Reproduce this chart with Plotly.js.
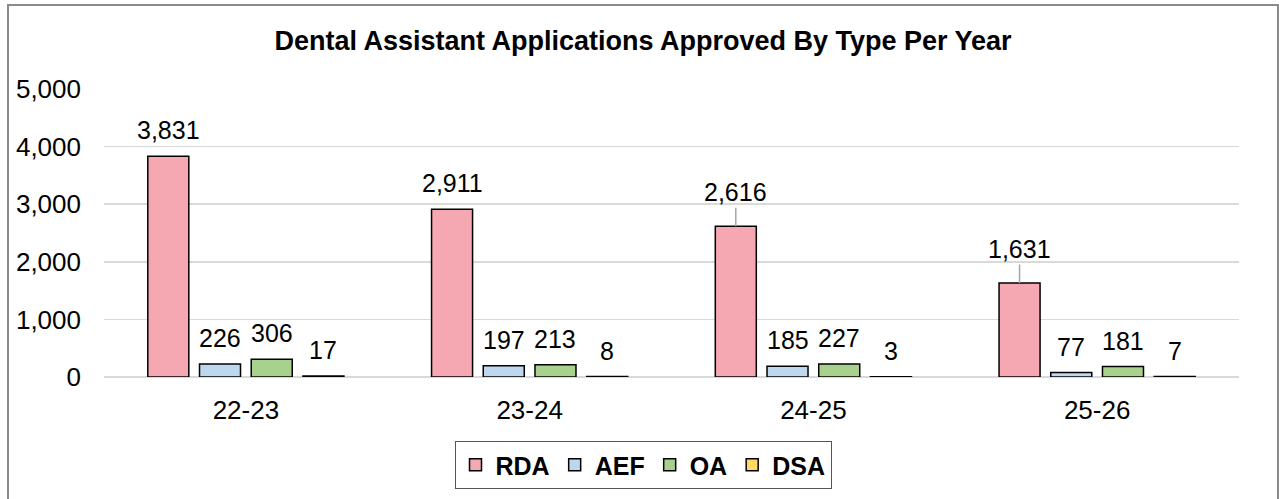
<!DOCTYPE html>
<html>
<head>
<meta charset="utf-8">
<script src="https://cdn.plot.ly/plotly-3.0.1.min.js"></script>
<style>
  html, body { margin: 0; padding: 0; background: #fff; overflow: hidden; }
  #frame {
    position: absolute; left: 7px; top: 4px;
    width: 1268px; height: 520px;
    border: 2px solid #8a8a8a;
  }
</style>
</head>
<body>
<div id="frame"><div id="chart"></div></div>
<script>
// Data
const years = ['22-23', '23-24', '24-25', '25-26'];
const seriesNames = ['RDA', 'AEF', 'OA', 'DSA'];
const rda = [3831, 2911, 2616, 1631];
const aef = [226, 197, 185, 77];
const oa  = [306, 213, 227, 181];
const dsa = [17, 8, 3, 7];
// labels that Excel pulled away from the bar, drawn with a leader line
const leaderLabels = [[0, 2], [0, 3]];

const COLORS = ['#F5A7B2', '#BDD7EE', '#A9D18E', '#FFD966'];
const FONT = '"Liberation Sans", Arial, sans-serif';
const BARGAP = 0.271;
const GROUPGAP = 0.207;

const allSeries = [rda, aef, oa, dsa];

const traces = allSeries.map((vals, s) => ({
  type: 'bar',
  name: seriesNames[s],
  x: years,
  y: vals,
  marker: { color: COLORS[s], line: { color: '#000', width: 1.5 } },
  hoverinfo: 'x+y+name'
}));

// data labels: position each over its bar, using the group offsets
const slot = (1 - BARGAP) / allSeries.length;
const annotations = [];
allSeries.forEach((vals, s) => {
  vals.forEach((v, i) => {
    const lead = leaderLabels.some(p => p[0] === s && p[1] === i);
    const a = {
      xref: 'x', yref: 'y',
      x: i + (s - (allSeries.length - 1) / 2) * slot,
      y: v,
      text: v.toLocaleString('en-US'),
      font: { family: FONT, size: 25, color: '#000' }
    };
    if (lead) {
      Object.assign(a, { showarrow: true, arrowhead: 0, arrowwidth: 1.5,
        arrowcolor: '#a6a6a6', ax: 0, ay: -34 });
    } else {
      Object.assign(a, { showarrow: false, yanchor: 'middle', yshift: 26 });
    }
    annotations.push(a);
  });
});

const layout = {
  width: 1268,
  height: 495,
  margin: { l: 95, r: 38, t: 83, b: 124 },
  paper_bgcolor: '#fff',
  plot_bgcolor: '#fff',
  font: { family: FONT, color: '#000', size: 25 },
  barmode: 'group',
  bargap: BARGAP,
  bargroupgap: GROUPGAP,
  title: {
    text: '<b>Dental Assistant Applications Approved By Type Per Year</b>',
    font: { family: FONT, size: 27, color: '#000' },
    x: 0.5, xanchor: 'center',
    yref: 'container', y: 1 - 35 / 495, yanchor: 'middle'
  },
  xaxis: {
    type: 'category',
    showgrid: false,
    showline: false,
    ticks: '',
    ticklabelstandoff: 15,
    tickfont: { family: FONT, size: 26, color: '#000' }
  },
  yaxis: {
    range: [0, 5000],
    dtick: 1000,
    tickformat: ',d',
    showgrid: true,
    gridcolor: '#d9d9d9',
    gridwidth: 1.5,
    zeroline: true,
    zerolinecolor: '#d9d9d9',
    zerolinewidth: 1.5,
    ticks: '',
    ticklabelstandoff: 22,
    tickfont: { family: FONT, size: 26, color: '#000' }
  },
  legend: {
    orientation: 'h',
    xref: 'container', yref: 'container',
    x: 0.5, xanchor: 'center',
    y: 1 - 435 / 495, yanchor: 'top',
    bordercolor: '#555',
    borderwidth: 1,
    font: { family: FONT, size: 25, color: '#000', weight: 'bold' },
    itemwidth: 30,
    traceorder: 'normal'
  },
  annotations: annotations,
  showlegend: true
};

Plotly.newPlot('chart', traces, layout, { displayModeBar: false, staticPlot: true });
</script>
</body>
</html>
